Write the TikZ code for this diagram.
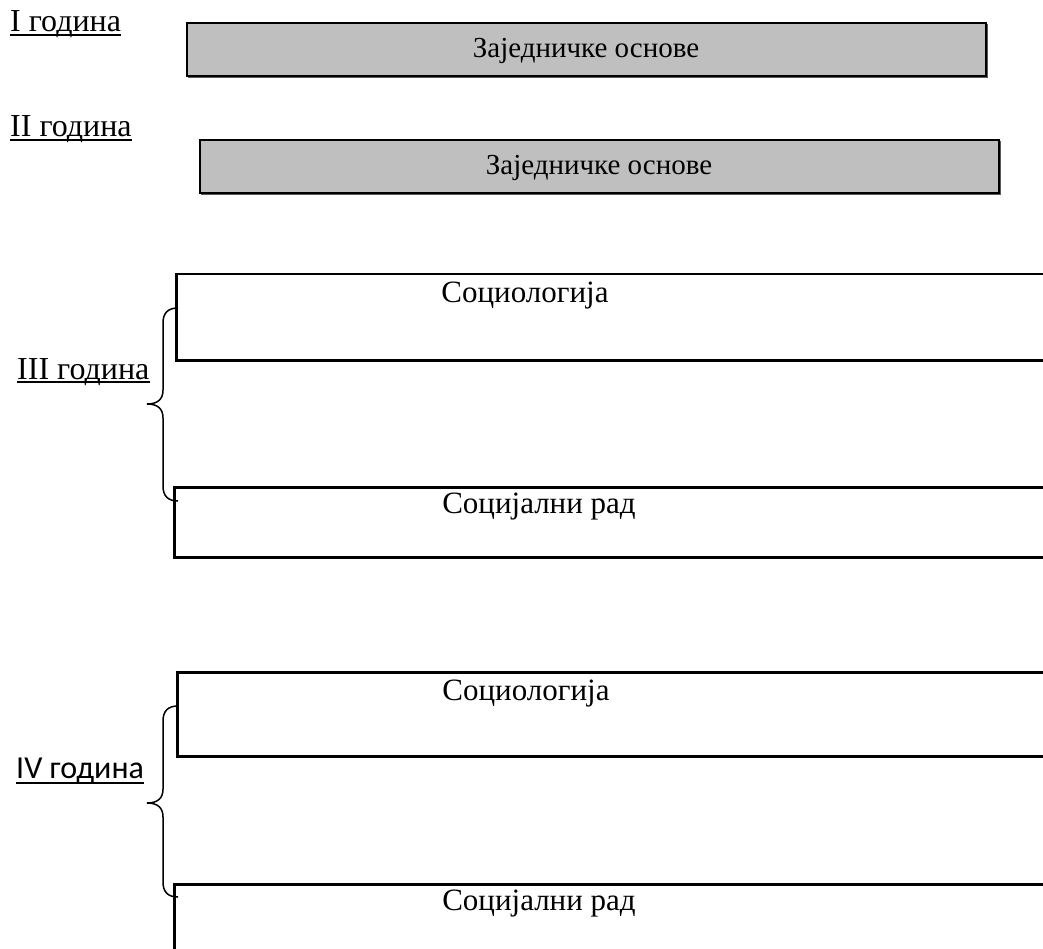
\documentclass[tikz,border=0pt]{standalone}
\usepackage{fontspec}
\setmainfont{Liberation Serif}
\newfontfamily\calib{Carlito}
\begin{document}
\begin{tikzpicture}[x=1pt,y=-1pt,
  graybox/.style={draw=black,fill=gray!50!white,line width=2pt},
  whitebox/.style={draw=black,line width=2.5pt},
  lbl/.style={inner sep=0pt,anchor=base west,font=\fontsize{32}{38}\selectfont},
  gtext/.style={inner sep=0pt,anchor=base,font=\fontsize{29}{34}\selectfont},
  wtext/.style={inner sep=0pt,anchor=base,font=\fontsize{31}{36}\selectfont},
  uline/.style={line width=1.8pt},
  brace/.style={line width=1.5pt}]
\useasboundingbox (0,0) rectangle (1043,949);
\clip (0,0) rectangle (1043,949);
\fill[white] (0,0) rectangle (1043,949);

% labels
\node[lbl] (l1) at (10,32) {I година};
\node[lbl] (l2) at (10,137) {II година};
\node[lbl] (l3) at (17,379) {III година};
\node[lbl,font=\calib\fontsize{32}{38}\selectfont] (l4) at (16,778) {IV година};
\foreach \n in {l1,l2,l3}{
  \draw[uline] ([yshift=-3pt]\n.base west) -- ([yshift=-3pt]\n.base east);
}
\draw[uline] ([yshift=-5pt]l4.base west) -- ([yshift=-5pt]l4.base east);

% gray boxes
\draw[gray!70!black,line width=2pt] (188,77) -- (987,77) -- (987,24);
\node[graybox,minimum width=799pt,minimum height=53pt,anchor=north west,inner sep=0pt] (g1) at (186,22) {};
\node[gtext] (g1t) at (586,58) {Заједничке основе};
\draw[gray!70!black,line width=2pt] (201,194) -- (1000,194) -- (1000,141);
\node[graybox,minimum width=799pt,minimum height=53pt,anchor=north west,inner sep=0pt] (g2) at (199,139) {};
\node[gtext] (g2t) at (599,175) {Заједничке основе};

% white boxes (extend beyond the picture edge)
\node[whitebox,minimum width=900pt,minimum height=86pt,anchor=north west,inner sep=0pt] (s3) at (175,273) {};
\node[wtext] (s3t) at (525,303) {Социологија};
\node[whitebox,minimum width=900pt,minimum height=70pt,anchor=north west,inner sep=0pt] (r3) at (173,486) {};
\node[wtext] (r3t) at (539,513) {Социјални рад};

\node[whitebox,minimum width=900pt,minimum height=84pt,anchor=north west,inner sep=0pt] (s4) at (176,671) {};
\node[wtext] (s4t) at (526,700) {Социологија};
\node[whitebox,minimum width=900pt,minimum height=120pt,anchor=north west,inner sep=0pt] (r4) at (173,883) {};
\node[wtext] (r4t) at (539,910) {Социјални рад};

% braces
\coordinate (b3t) at (178,308);
\coordinate (b3m) at (147,404);
\coordinate (b3b) at (178,501);
\draw[brace] (b3t) .. controls (168,308) and (163,313) .. (163,323) -- (163,390)
  .. controls (163,399) and (158,404) .. (b3m)
  .. controls (158,404) and (163,409) .. (163,418) -- (163,486)
  .. controls (163,496) and (168,501) .. (b3b);
\coordinate (b4t) at (178,706);
\coordinate (b4m) at (147,803);
\coordinate (b4b) at (178,897);
\draw[brace] (b4t) .. controls (168,706) and (163,711) .. (163,721) -- (163,789)
  .. controls (163,798) and (158,803) .. (b4m)
  .. controls (158,803) and (163,808) .. (163,817) -- (163,882)
  .. controls (163,892) and (168,897) .. (b4b);
\end{tikzpicture}
\end{document}
